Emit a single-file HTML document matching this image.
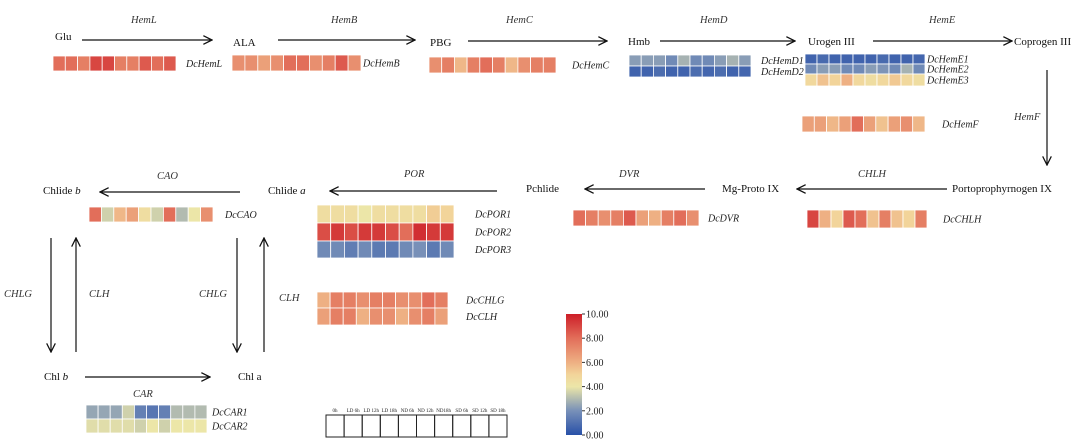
<!DOCTYPE html>
<html><head><meta charset="utf-8"><style>
body{margin:0;background:#fff;}
svg{display:block;font-family:"Liberation Serif",serif;}
.n{font-size:11px;fill:#111}
.e{font-size:10.5px;font-style:italic;fill:#333}
.g{font-size:10px;font-style:italic;fill:#222}
</style></head><body>
<svg id="s" width="1080" height="444" viewBox="0 0 1080 444">
<defs><marker id="ah" viewBox="0 0 10 10" refX="9" refY="5" markerWidth="9" markerHeight="9" orient="auto-start-reverse"><path d="M1,1 L9,5 L1,9" fill="none" stroke="#111" stroke-width="1.2"/></marker>
<linearGradient id="cb" x1="0" y1="1" x2="0" y2="0">
<stop offset="0" stop-color="#2850a8"/><stop offset="0.2" stop-color="#7890b8"/><stop offset="0.4" stop-color="#ece6a8"/><stop offset="0.5" stop-color="#f2d49a"/><stop offset="0.6" stop-color="#eeb083"/><stop offset="0.8" stop-color="#e26e5a"/><stop offset="1" stop-color="#cd1e28"/></linearGradient></defs>
<g id="static" stroke="#111" stroke-width="1.2" fill="none">
<line x1="82" y1="40" x2="212" y2="40" marker-end="url(#ah)"/>
<line x1="278" y1="40" x2="415" y2="40" marker-end="url(#ah)"/>
<line x1="468" y1="41" x2="607" y2="41" marker-end="url(#ah)"/>
<line x1="660" y1="41" x2="795" y2="41" marker-end="url(#ah)"/>
<line x1="873" y1="41" x2="1012" y2="41" marker-end="url(#ah)"/>
<line x1="1047" y1="70" x2="1047" y2="165" marker-end="url(#ah)"/>
<line x1="947" y1="189" x2="797" y2="189" marker-end="url(#ah)"/>
<line x1="705" y1="189" x2="585" y2="189" marker-end="url(#ah)"/>
<line x1="497" y1="191" x2="330" y2="191" marker-end="url(#ah)"/>
<line x1="240" y1="192" x2="100" y2="192" marker-end="url(#ah)"/>
<line x1="51" y1="238" x2="51" y2="352" marker-end="url(#ah)"/>
<line x1="76" y1="352" x2="76" y2="238" marker-end="url(#ah)"/>
<line x1="237" y1="238" x2="237" y2="352" marker-end="url(#ah)"/>
<line x1="264" y1="352" x2="264" y2="238" marker-end="url(#ah)"/>
<line x1="85" y1="377" x2="210" y2="377" marker-end="url(#ah)"/>
</g>
<g>
<text class="n" x="55" y="40">Glu</text>
<text class="n" x="233" y="46">ALA</text>
<text class="n" x="430" y="46">PBG</text>
<text class="n" x="628" y="45">Hmb</text>
<text class="n" x="808" y="45">Urogen III</text>
<text class="n" x="1014" y="45">Coprogen III</text>
<text class="n" x="952" y="192">Portoprophyrnogen IX</text>
<text class="n" x="722" y="192">Mg-Proto IX</text>
<text class="n" x="526" y="192">Pchlide</text>
<text class="n" x="268" y="194">Chlide <tspan font-style="italic">a</tspan></text>
<text class="n" x="43" y="194">Chlide <tspan font-style="italic">b</tspan></text>
<text class="n" x="44" y="380">Chl <tspan font-style="italic">b</tspan></text>
<text class="n" x="238" y="380">Chl a</text>
<text class="e" x="131" y="23">HemL</text>
<text class="e" x="331" y="23">HemB</text>
<text class="e" x="506" y="23">HemC</text>
<text class="e" x="700" y="23">HemD</text>
<text class="e" x="929" y="23">HemE</text>
<text class="e" x="1014" y="120">HemF</text>
<text class="e" x="858" y="177">CHLH</text>
<text class="e" x="619" y="177">DVR</text>
<text class="e" x="404" y="177">POR</text>
<text class="e" x="157" y="179">CAO</text>
<text class="e" x="4" y="297">CHLG</text>
<text class="e" x="89" y="297">CLH</text>
<text class="e" x="199" y="297">CHLG</text>
<text class="e" x="279" y="301">CLH</text>
<text class="e" x="133" y="397">CAR</text>
</g>
<g id="hm"></g>
<g id="legendbox"></g>
<g>
<rect x="566" y="314" width="16" height="121" fill="url(#cb)"/>
<g id="cbt"></g>
</g>
</svg>
<script>
const SC=[[0,[40,80,168]],[2,[120,144,184]],[4,[236,230,168]],[5,[242,212,154]],[6,[238,176,131]],[8,[226,110,90]],[10,[205,30,40]]];
function col(v){for(let i=1;i<SC.length;i++){if(v<=SC[i][0]){const a=SC[i-1],b=SC[i],t=(v-a[0])/(b[0]-a[0]);return 'rgb('+a[1].map((c,k)=>Math.round(c+(b[1][k]-c)*t)).join(',')+')';}}return 'rgb(205,30,40)';}
const hemL=[8,8,7.5,9,9,7.5,7.5,8.5,8,8.5];
const hemB=[7,7,6.5,7,8,8,7,7.5,8.5,7];
const hemC=[7,7.5,5.8,7.5,8,7.5,5.8,7,7.5,7.5];
const hemD1=[2.3,2.3,2.3,1.8,2.8,1.8,1.8,2.3,2.8,2.3];
const hemD2=[0.6,0.6,0.9,0.6,0.6,0.9,0.7,0.9,0.6,0.7];
const hemE1=[0.6,0.8,0.6,0.6,0.6,0.6,0.8,0.6,0.6,0.7];
const hemE2=[1.8,2.3,2.3,1.8,1.8,2.3,2.1,1.8,2.8,1.8];
const hemE3=[4.8,5.5,5,6,4.8,4.5,4.8,5.3,4.8,4.5];
const hemF=[6.5,6.5,5.8,6.5,8,6.5,5.5,6.5,7,5.8];
const chlH=[9,6,5,8.5,8,5.5,7.5,5.5,5,7.5];
const dvr=[8,7.5,7,7.5,8.5,6.5,6,7.5,8,7];
const por1=[4.5,4.5,4.5,4,4.5,4.5,4.5,4.5,5.2,5];
const por2=[8.8,9.3,8.8,9.3,9.3,8.8,8,9.6,9.3,9.3];
const por3=[1.8,1.8,1.4,1.8,1.3,1.3,1.8,2,1.3,1.8];
const chlG=[6,7.5,7.5,7,7.5,7.5,7,7,8,7.5];
const clh=[6.5,7.5,7.5,6,7,7,6,7,7.5,6.5];
const cao=[8,3.5,5.8,6.5,4.5,3.5,8,3,4,7];
const car1=[2.5,2.5,2.5,3.5,1.5,1.2,1.5,3,3,3];
const car2=[3.8,3.8,3.8,3.8,3.5,4,3.5,4,4,4];
const samples=['0h','LD 6h','LD 12h','LD 18h','ND 6h','ND 12h','ND18h','SD 6h','SD 12h','SD 18h'];
const cbTicks=['0.00','2.00','4.00','6.00','8.00','10.00'];
const NS='http://www.w3.org/2000/svg';
const hm=document.getElementById('hm');
function mk(t,a,p){const e=document.createElementNS(NS,t);for(const k in a)e.setAttribute(k,a[k]);(p||hm).appendChild(e);return e;}
function row(name,vals,x,y,w,h,lx,fs){
 const g=mk('g',{});
 
 
 const cw=w/vals.length;
 vals.forEach((v,i)=>{const r=mk('rect',{x:x+i*cw,y:y,width:cw,height:h,fill:col(v),stroke:'#fff','stroke-width':0.8},g);
 
 });
 const t=mk('text',{x:lx,y:y+h/2+3.5,class:'g','font-size':fs||10},g);t.textContent=name;
 
 
}
row('DcHemL',hemL,53,56,123,15,186);
row('DcHemB',hemB,232,55,129,16,363,11);
row('DcHemC',hemC,429,57,127,16,572);
row('DcHemD1',hemD1,629,55,122,11,761,8.5);
row('DcHemD2',hemD2,629,66,122,11,761,8.5);
row('DcHemE1',hemE1,805,54,120,10,927,8);
row('DcHemE2',hemE2,805,64,120,10,927,8);
row('DcHemE3',hemE3,805,74,120,12,927,8);
row('DcHemF',hemF,802,116,123,16,942,9.5);
row('DcCHLH',chlH,807,210,120,18,943);
row('DcDVR',dvr,573,210,126,16,708);
row('DcPOR1',por1,317,205,137,18,475,11);
row('DcPOR2',por2,317,223,137,18,475,11);
row('DcPOR3',por3,317,241,137,17,475,11);
row('DcCHLG',chlG,317,292,131,16,466);
row('DcCLH',clh,317,308,131,17,466);
row('DcCAO',cao,89,207,124,15,225,10);
row('DcCAR1',car1,86,405,121,14,212,9.5);
row('DcCAR2',car2,86,419,121,14,212,9.5);
const lb=document.getElementById('legendbox');
const bw=181/samples.length;
samples.forEach((s,i)=>{const r=mk('rect',{x:326+i*bw,y:415,width:bw,height:22,fill:'none',stroke:'#222','stroke-width':1},lb);
 
 
 const t=mk('text',{x:326+i*bw+bw/2,y:412,'font-size':5,'text-anchor':'middle',fill:'#222'},lb);t.textContent=s;
 
 });
const cbt=document.getElementById('cbt');
cbTicks.forEach((s,i)=>{const y=435-i*121/(cbTicks.length-1);
 mk('line',{x1:582,x2:585,y1:y,y2:y,stroke:'#333'},cbt);
 const t=mk('text',{x:586,y:y+3.5,'font-size':10,fill:'#222'},cbt);t.textContent=s;
 
 });
</script>
</body></html>
